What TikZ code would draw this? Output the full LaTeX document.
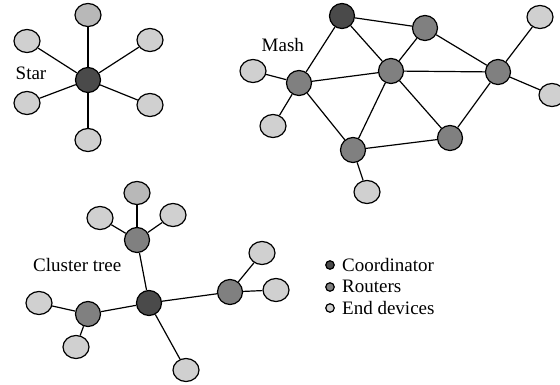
\documentclass[tikz,border=0pt]{standalone}
\usepackage{fontspec}
\setmainfont{Liberation Serif}
\usetikzlibrary{shapes.geometric}
\definecolor{coordc}{HTML}{4A4A4A}
\definecolor{routc}{HTML}{808080}
\definecolor{endc}{HTML}{D0D0D0}
\definecolor{endtop}{HTML}{B8B8B8}
\tikzset{
  base/.style={draw=black, line width=1.2pt, inner sep=0pt},
  coordn/.style={base, circle, fill=coordc, minimum size=25pt},
  routn/.style={base, circle, fill=routc, minimum size=25pt},
  endn/.style={base, ellipse, fill=endc, minimum width=26pt, minimum height=23pt},
  endt/.style={endn, fill=endtop},
  link/.style={line width=1.2pt},
  lbl/.style={anchor=base west, inner sep=0pt, font=\fontsize{19}{21}\selectfont},
  legc/.style={draw=black, line width=1.2pt, circle, inner sep=0pt, minimum size=8.5pt}
}
\begin{document}
\begin{tikzpicture}[x=1pt,y=-1pt]
\useasboundingbox (0,0) rectangle (560,385);
% Star
\node[coordn] (sc) at (88,80) {};
\node[endt] (s1) at (88,15) {};
\node[endn] (s2) at (27,41) {};
\node[endn] (s3) at (150,40) {};
\node[endn] (s4) at (27,103) {};
\node[endn] (s5) at (150,105) {};
\node[endn] (s6) at (88,140) {};
\foreach \n in {s1,s2,s3,s4,s5,s6} \draw[link] (sc) -- (\n);
\node[lbl] (startxt) at (15.5,80) {Star};
% Mash
\node[coordn] (mc) at (342,16) {};
\node[routn] (mt) at (425,28) {};
\node[routn] (mm) at (391,71) {};
\node[routn] (mr) at (498,72) {};
\node[routn] (ml) at (299,83) {};
\node[routn] (mbl) at (353,150) {};
\node[routn] (mbr) at (450,138) {};
\node[endn] (me1) at (540,17) {};
\node[endn] (me2) at (552,95) {};
\node[endn] (me3) at (253,71) {};
\node[endn] (me4) at (273,126) {};
\node[endn] (me5) at (367,192) {};
\draw[link] (mc) -- (mt);
\draw[link] (mc) -- (mm);
\draw[link] (mc) -- (ml);
\draw[link] (mt) -- (mm);
\draw[link] (mt) -- (mr);
\draw[link] (mm) -- (ml);
\draw[link] (mm) -- (mr);
\draw[link] (mm) -- (mbl);
\draw[link] (mm) -- (mbr);
\draw[link] (ml) -- (mbl);
\draw[link] (mbl) -- (mbr);
\draw[link] (mbr) -- (mr);
\draw[link] (mr) -- (me1);
\draw[link] (mr) -- (me2);
\draw[link] (ml) -- (me3);
\draw[link] (ml) -- (me4);
\draw[link] (mbl) -- (me5);
\node[lbl] (mashtxt) at (261.5,52) {Mash};
% Cluster tree
\node[coordn] (cc) at (149,303) {};
\node[routn] (ct) at (137,240) {};
\node[routn] (cr) at (230,292) {};
\node[routn] (cl) at (88,314) {};
\node[endt] (ce1) at (137,193) {};
\node[endn] (ce2) at (100,218) {};
\node[endn] (ce3) at (173,215) {};
\node[endn] (ce4) at (262,253) {};
\node[endn] (ce5) at (276,290) {};
\node[endn] (ce6) at (39,303) {};
\node[endn] (ce7) at (76,347) {};
\node[endn] (ce8) at (186,370) {};
\draw[link] (cc) -- (ct);
\draw[link] (cc) -- (cr);
\draw[link] (cc) -- (cl);
\draw[link] (cc) -- (ce8);
\draw[link] (ct) -- (ce1);
\draw[link] (ct) -- (ce2);
\draw[link] (ct) -- (ce3);
\draw[link] (cr) -- (ce4);
\draw[link] (cr) -- (ce5);
\draw[link] (cl) -- (ce6);
\draw[link] (cl) -- (ce7);
\node[lbl] (clustertxt) at (33,271.5) {Cluster tree};
% Legend
\node[legc, fill=coordc] (lg1) at (330,265) {};
\node[legc, fill=routc] (lg2) at (330,287) {};
\node[legc, fill=endc] (lg3) at (330,308) {};
\node[lbl] (lt1) at (342,271) {Coordinator};
\node[lbl] (lt2) at (342,292.5) {Routers};
\node[lbl] (lt3) at (342,314) {End devices};
\end{tikzpicture}
\end{document}
